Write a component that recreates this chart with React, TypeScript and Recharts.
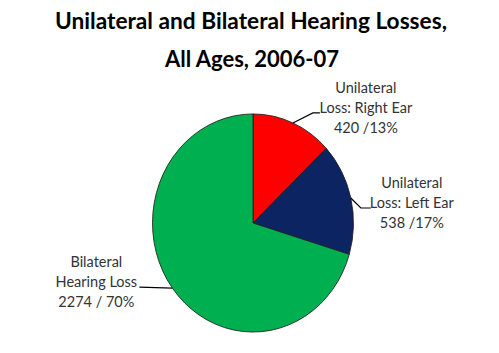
import { PieChart, Pie, Cell, Sector } from 'recharts';

// slice data, clockwise from 12 o'clock
const categories = ['Unilateral Loss: Right Ear', 'Unilateral Loss: Left Ear', 'Bilateral Hearing Loss'];
const counts = [420, 538, 2274];
const labelLines = [
  ['Unilateral', 'Loss: Right Ear', '420 /13%'],
  ['Unilateral', 'Loss: Left Ear', '538 /17%'],
  ['Bilateral', 'Hearing Loss', '2274 / 70%'],
];
const colors = ['#FF0000', '#0C2461', '#00B050'];

const titleLines = ['Unilateral and Bilateral Hearing Losses,', 'All Ages, 2006-07'];

// pie is drawn a little taller than wide, like the original slide
const Y_SCALE = 1.085;

// where each label block sits, relative to the slice edge point
const labelLayout = [
  { elbow: [20, -10], end: [27, -10], textX: 73, firstBaseline: -30 },
  { elbow: [10, 10], end: [20, 10], textX: 61, firstBaseline: -10 },
  { elbow: [-33, -1], end: [-33, -1], textX: -76, firstBaseline: -21 },
];

const data = categories.map((name, i) => ({ name, value: counts[i] }));

const RAD = Math.PI / 180;

const stretchedSector = (props: any) => {
  const { cx, cy } = props;
  return (
    <g transform={`translate(${cx} ${cy}) scale(1 ${Y_SCALE}) translate(${-cx} ${-cy})`}>
      <Sector {...props} stroke="#1a1a1a" strokeWidth={0.8} />
    </g>
  );
};

const renderLabel = (props: any) => {
  const { cx, cy, midAngle, outerRadius, index } = props;
  const ex = cx + outerRadius * Math.cos(-midAngle * RAD);
  const ey = cy + outerRadius * Math.sin(-midAngle * RAD) * Y_SCALE;
  const lay = labelLayout[index];
  const pts = [
    [ex, ey],
    [ex + lay.elbow[0], ey + lay.elbow[1]],
    [ex + lay.end[0], ey + lay.end[1]],
  ];
  return (
    <g>
      <polyline
        points={pts.map((p) => p.join(',')).join(' ')}
        fill="none"
        stroke="#000"
        strokeWidth={1.2}
      />
      <text
        x={ex + lay.textX}
        y={ey + lay.firstBaseline}
        textAnchor="middle"
        fill="#333"
        fontSize={14.5}
        fontFamily="Lato, 'Open Sans', sans-serif"
      >
        {labelLines[index].map((line, j) => (
          <tspan key={j} x={ex + lay.textX} dy={j === 0 ? 0 : 20}>
            {line}
          </tspan>
        ))}
      </text>
    </g>
  );
};

export default function App() {
  return (
    <div style={{ position: 'absolute', left: 0, top: 0, width: 499, height: 353, background: '#fff' }}>
      <PieChart width={499} height={353} margin={{ top: 0, right: 0, bottom: 0, left: 0 }}>
        <text
          x={251}
          y={29}
          textAnchor="middle"
          fontSize={22}
          fontWeight="bold"
          fill="#000"
          fontFamily="Lato, 'Open Sans', sans-serif"
          textLength={392}
          lengthAdjust="spacingAndGlyphs"
        >
          {titleLines[0]}
        </text>
        <text
          x={252}
          y={67}
          textAnchor="middle"
          fontSize={22}
          fontWeight="bold"
          fill="#000"
          fontFamily="Lato, 'Open Sans', sans-serif"
        >
          {titleLines[1]}
        </text>
        <Pie
          data={data}
          dataKey="value"
          nameKey="name"
          cx={253}
          cy={223}
          outerRadius={100.5}
          startAngle={90}
          endAngle={-270}
          isAnimationActive={false}
          label={renderLabel}
          labelLine={false}
          shape={stretchedSector}
          activeShape={stretchedSector}
          inactiveShape={stretchedSector}
        >
          {data.map((entry, i) => (
            <Cell key={entry.name} fill={colors[i]} />
          ))}
        </Pie>
      </PieChart>
    </div>
  );
}
